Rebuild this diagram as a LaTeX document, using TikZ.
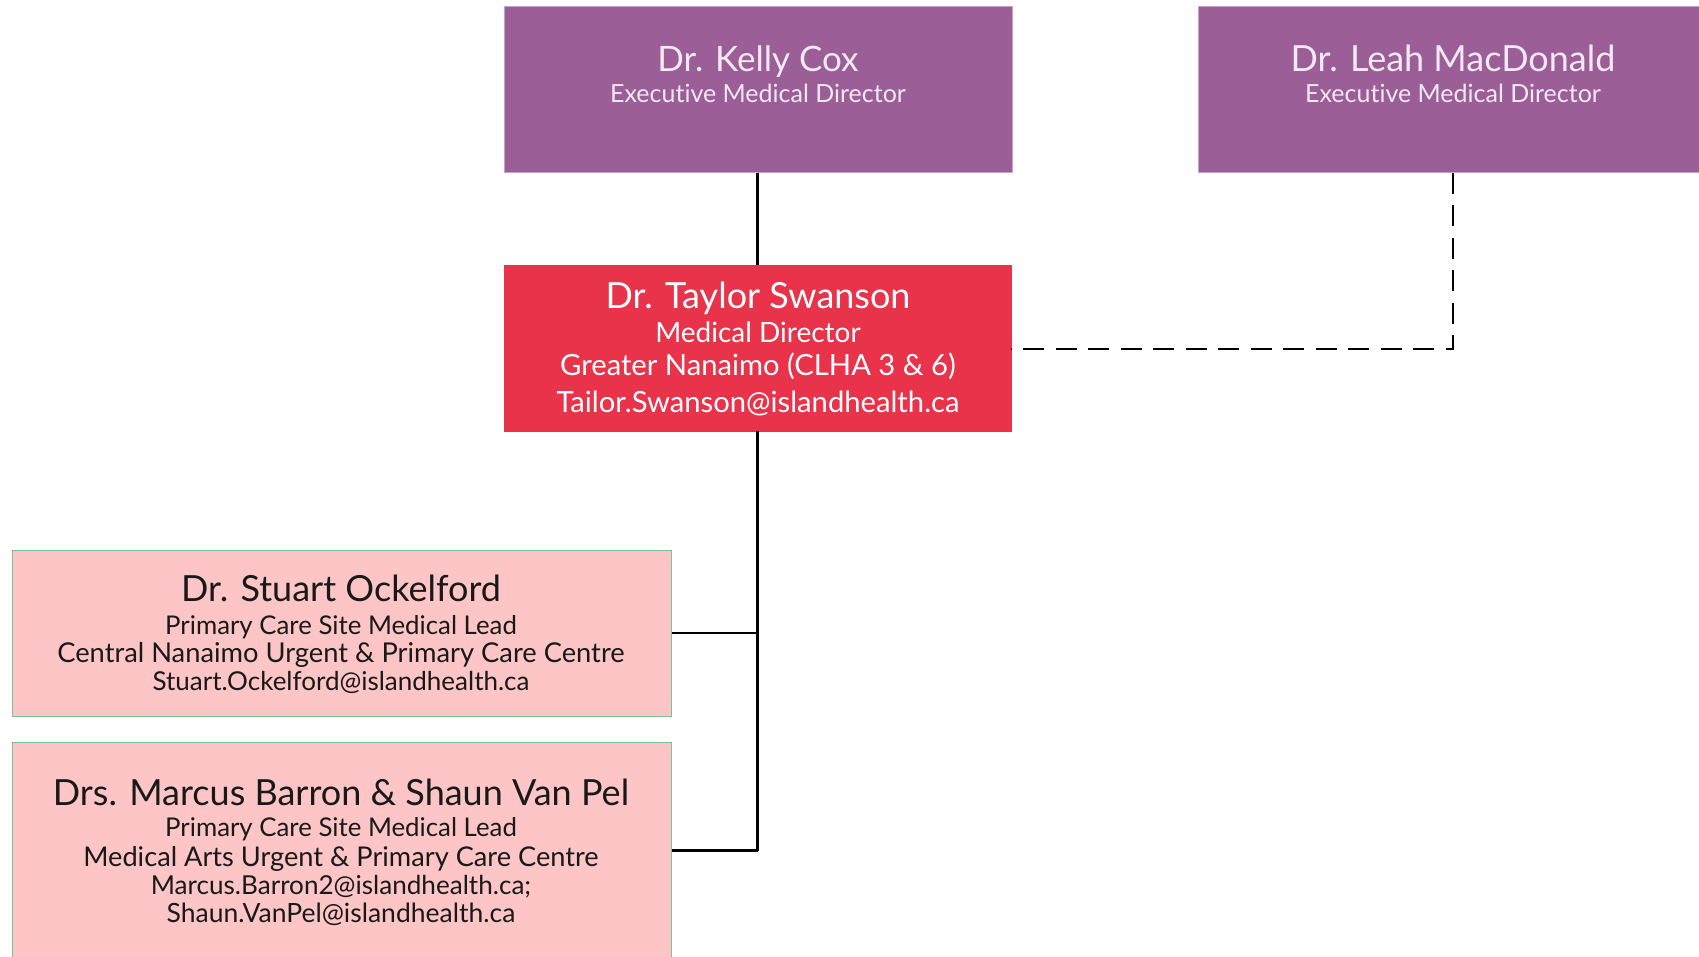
\documentclass[tikz,border=0pt]{standalone}
\usepackage{fontspec}
\setmainfont{Lato}[Ligatures={NoCommon}]
\definecolor{execpurple}{RGB}{155,94,151}
\definecolor{execedge}{RGB}{200,160,200}
\definecolor{mdred}{RGB}{232,51,74}
\definecolor{leadpink}{RGB}{253,197,197}
\definecolor{leadedge}{RGB}{120,195,150}
\definecolor{paletext}{RGB}{245,232,245}
\begin{document}
\begin{tikzpicture}[x=1pt,y=-1pt,
  exec/.style={fill=execpurple, draw=execedge, line width=0.8pt, inner sep=0pt, anchor=north west},
  mdbox/.style={fill=mdred, draw=mdred, inner sep=0pt, anchor=north west},
  leadbox/.style={fill=leadpink, draw=leadedge, line width=1pt, inner sep=0pt, anchor=north west},
  bigtxt/.style={anchor=base, inner sep=0pt, font=\fontsize{36}{36}\selectfont},
  midtxt/.style={anchor=base, inner sep=0pt, font=\fontsize{26.5}{26.5}\selectfont},
  exectxt/.style={anchor=base, inner sep=0pt, font=\fontsize{25}{25}\selectfont},
  mdtxt/.style={anchor=base, inner sep=0pt, font=\fontsize{29.2}{29.2}\selectfont},
  lighttxt/.style={text=paletext},
  darktxt/.style={text=black!90},
  link/.style={draw=black, line width=2.5pt},
  dottedlink/.style={draw=black, line width=2.5pt, dash pattern=on 21pt off 11.5pt}]
\useasboundingbox (0,0) rectangle (1699,957);
\clip (0,0) rectangle (1699,957);

% boxes
\node[exec, minimum width=508pt, minimum height=165.5pt] (kelly) at (504,6.5) {};
\node[exec, minimum width=510pt, minimum height=165.5pt] (leah) at (1198,6.5) {};
\node[mdbox, minimum width=507pt, minimum height=165.5pt] (taylor) at (504,265.5) {};
\node[leadbox, minimum width=659pt, minimum height=166pt] (stuart) at (12,550) {};
\node[leadbox, minimum width=659pt, minimum height=260pt] (marcus) at (12,742) {};

% texts
\node[bigtxt, lighttxt, font=\fontsize{35}{35}\selectfont] (kellyname) at (758,71.5) {Dr. Kelly Cox};
\node[exectxt, lighttxt] (kellyrole) at (758,103) {Executive Medical Director};
\node[bigtxt, lighttxt] (leahname) at (1453,71.5) {Dr. Leah MacDonald};
\node[exectxt, lighttxt] (leahrole) at (1453,103) {Executive Medical Director};

\node[bigtxt, text=white] (taylorname) at (758,309) {Dr. Taylor Swanson};
\node[mdtxt, text=white, font=\fontsize{28}{28}\selectfont] (taylorrole) at (758,342) {Medical Director};
\node[mdtxt, text=white] (taylorarea) at (758,375) {Greater Nanaimo (CLHA 3 \& 6)};
\node[mdtxt, text=white] (taylormail) at (758,412) {Tailor.Swanson@islandhealth.ca};

\node[bigtxt, darktxt] (stuartname) at (341,601) {Dr. Stuart Ockelford};
\node[midtxt, darktxt, font=\fontsize{25.8}{25.8}\selectfont] (stuartrole) at (341,634) {Primary Care Site Medical Lead};
\node[midtxt, darktxt, font=\fontsize{27.3}{27.3}\selectfont] (stuartsite) at (341,662) {Central Nanaimo Urgent \& Primary Care Centre};
\node[midtxt, darktxt, font=\fontsize{26}{26}\selectfont] (stuartmail) at (341,690) {Stuart.Ockelford@islandhealth.ca};

\node[bigtxt, darktxt] (marcusname) at (341,805) {Drs. Marcus Barron \& Shaun Van Pel};
\node[midtxt, darktxt, font=\fontsize{25.8}{25.8}\selectfont] (marcusrole) at (341,836.5) {Primary Care Site Medical Lead};
\node[midtxt, darktxt, font=\fontsize{27.2}{27.2}\selectfont] (marcussite) at (341,866) {Medical Arts Urgent \& Primary Care Centre};
\node[midtxt, darktxt, font=\fontsize{26.1}{26.1}\selectfont] (marcusmail) at (341,894) {Marcus.Barron2@islandhealth.ca;};
\node[midtxt, darktxt] (shaunmail) at (341,922) {Shaun.VanPel@islandhealth.ca};

% connectors
\coordinate (trunk1) at (758,633);
\coordinate (trunk2) at (758,850.5);
\coordinate (dashcorner) at (1453,349);
\path[link] (kelly.south -| taylor.north) -- (taylor.north);
\path[link] (taylor.south) -- (taylor.south |- trunk2);
\path[link] (stuart.east |- trunk1) -- (taylor.south |- trunk1);
\path[link] (marcus.east |- trunk2) -- (taylor.south |- trunk2);
\path[dottedlink] (leah.south -| dashcorner) -- (dashcorner) -- (taylor.east |- dashcorner);
\end{tikzpicture}
\end{document}
